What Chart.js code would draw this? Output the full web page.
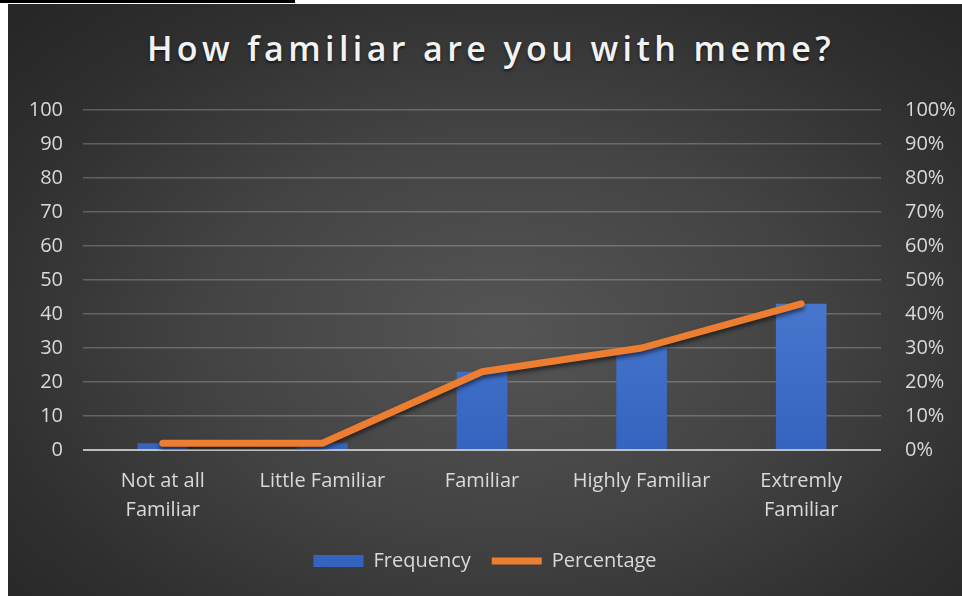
<!DOCTYPE html>
<html>
<head>
<meta charset="utf-8">
<title>How familiar are you with meme?</title>
<script src="https://cdn.jsdelivr.net/npm/chart.js@4.4.1/dist/chart.umd.min.js"></script>
<style>
    html, body { margin: 0; padding: 0; background: #fff; }
    body { width: 962px; height: 596px; position: relative; overflow: hidden; }
    .rule { position: absolute; left: 0; top: 0; width: 295px; height: 3px; background: #000; }
    .card {
        position: absolute; left: 8px; top: 4px; width: 954px; height: 592px;
        background: radial-gradient(ellipse 70% 75% at 52% 55%, #555555 0%, #434343 45%, #2f2f2f 80%, #272727 100%);
    }
    .card h1 {
        position: absolute; left: 12px; right: 0; top: 21px; margin: 0;
        text-align: center; font: 600 34px 'Open Sans', sans-serif; letter-spacing: 4.4px;
        color: #f2f2f2; text-shadow: 0 2px 3px rgba(0, 0, 0, 0.55);
    }
    #chart { position: absolute; left: 0; top: 0; }
</style>
</head>
<body>
<div class="rule"></div>
<div class="card">
    <h1>How familiar are you with meme?</h1>
    <canvas id="chart" width="954" height="592"></canvas>
</div>
<script>
const categories = [['Not at all', 'Familiar'], 'Little Familiar', 'Familiar', 'Highly Familiar', ['Extremly', 'Familiar']];
const frequency = [2, 2, 23, 30, 43];
const percentage = [2, 2, 23, 30, 43];
const leftTicks = [0, 10, 20, 30, 40, 50, 60, 70, 80, 90, 100];
const rightTicks = ['0%', '10%', '20%', '30%', '40%', '50%', '60%', '70%', '80%', '90%', '100%'];

const labelColor = '#d9d9d9';
const tickFont = { family: "'Open Sans', sans-serif", size: 20, lineHeight: 1.45 };

document.addEventListener('DOMContentLoaded', function() {
    const ctx = document.getElementById('chart').getContext('2d');

    // soft shadow under the orange line
    const lineShadow = {
        id: 'lineShadow',
        beforeDatasetDraw(chart, args) {
            if (args.index !== 1) return;
            chart.ctx.save();
            chart.ctx.shadowColor = 'rgba(0, 0, 0, 0.55)';
            chart.ctx.shadowBlur = 4;
            chart.ctx.shadowOffsetY = 3;
        },
        afterDatasetDraw(chart, args) {
            if (args.index !== 1) return;
            chart.ctx.restore();
        }
    };

    function barFill(context) {
        const area = context.chart.chartArea;
        if (!area) return '#4472c4';
        const g = context.chart.ctx.createLinearGradient(0, area.top, 0, area.bottom);
        g.addColorStop(0, '#5a8ae0');
        g.addColorStop(0.6, '#4675cc');
        g.addColorStop(1, '#3564c0');
        return g;
    }

    new Chart(ctx, {
        data: {
            labels: categories,
            datasets: [{
                type: 'bar',
                label: 'Frequency',
                data: frequency,
                backgroundColor: barFill,
                borderWidth: 0,
                pointStyle: 'rect',
                yAxisID: 'y',
                categoryPercentage: 1,
                barPercentage: 0.317,
                order: 2
            }, {
                type: 'line',
                label: 'Percentage',
                data: percentage,
                borderColor: '#ed7d31',
                backgroundColor: '#ed7d31',
                borderWidth: 7,
                borderCapStyle: 'round',
                borderJoinStyle: 'round',
                pointRadius: 0,
                pointStyle: 'line',
                tension: 0,
                yAxisID: 'y2',
                order: 1
            }]
        },
        options: {
            responsive: false,
            animation: false,
            layout: { padding: { top: 106, left: 0, right: 0, bottom: 15 } },
            plugins: {
                title: { display: false },
                tooltip: { enabled: false },
                legend: {
                    position: 'bottom',
                    labels: {
                        usePointStyle: true,
                        pointStyleWidth: 50,
                        boxHeight: 12,
                        padding: 21,
                        color: labelColor,
                        font: { family: "'Open Sans', sans-serif", size: 20 },
                        sort: (a, b) => a.datasetIndex - b.datasetIndex
                    }
                }
            },
            scales: {
                x: {
                    grid: { display: false },
                    border: { display: false },
                    ticks: { color: labelColor, font: tickFont, padding: 9, maxRotation: 0, autoSkip: false },
                    afterFit: s => { s.height = 80; }
                },
                y: {
                    position: 'left',
                    min: 0, max: 100,
                    afterBuildTicks: s => { s.ticks = leftTicks.map(v => ({ value: v })); },
                    ticks: { color: labelColor, font: tickFont, padding: 20 },
                    grid: {
                        drawTicks: false,
                        color: c => c.tick.value === 0 ? '#bdbdbd' : 'rgba(255, 255, 255, 0.22)',
                        lineWidth: c => c.tick.value === 0 ? 2 : 1.5
                    },
                    border: { display: false },
                    afterFit: s => { s.width = 75; }
                },
                y2: {
                    position: 'right',
                    min: 0, max: 100,
                    afterBuildTicks: s => { s.ticks = leftTicks.map(v => ({ value: v })); },
                    ticks: {
                        color: labelColor, font: tickFont, padding: 24,
                        callback: (v, i) => rightTicks[i]
                    },
                    grid: { display: false, drawTicks: false },
                    border: { display: false },
                    afterFit: s => { s.width = 81; }
                }
            }
        },
        plugins: [lineShadow]
    });
});
</script>
</body>
</html>
